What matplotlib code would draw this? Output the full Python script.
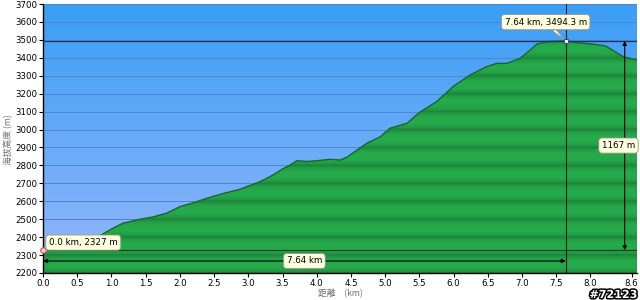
import numpy as np
import matplotlib
matplotlib.use("Agg")
import matplotlib.pyplot as plt
from matplotlib.colors import LinearSegmentedColormap
import matplotlib.patheffects as pe

plt.rcParams['font.family'] = ['DejaVu Sans', 'Noto Sans CJK TC']

# elevation profile
dist = [0.0, 0.05, 0.2, 0.44, 0.6, 0.8, 0.93, 1.05, 1.17, 1.42, 1.6, 1.81, 2.0, 2.2,
        2.39, 2.6, 2.88, 3.0, 3.17, 3.36, 3.5, 3.61, 3.71, 3.85, 4.0, 4.19, 4.34,
        4.44, 4.59, 4.73, 4.93, 5.07, 5.32, 5.5, 5.75, 5.99, 6.24, 6.48, 6.63,
        6.78, 6.97, 7.12, 7.22, 7.37, 7.5, 7.64, 7.82, 8.02, 8.22, 8.36, 8.48,
        8.63, 8.68]
elev = [2327, 2335, 2345, 2362, 2375, 2400, 2430, 2455, 2478, 2500, 2512, 2534, 2570, 2592,
        2616, 2640, 2667, 2685, 2709, 2746, 2780, 2802, 2826, 2822, 2826, 2834, 2830,
        2845, 2886, 2923, 2960, 3007, 3035, 3095, 3155, 3239, 3304, 3350, 3369,
        3369, 3397, 3443, 3477, 3490, 3492, 3494.3, 3484, 3477, 3466, 3434, 3406,
        3392, 3390]

start_km, start_m = 0.0, 2327
peak_km, peak_m = 7.64, 3494.3
gain_m = 1167

x_ticks = [0.0, 0.5, 1.0, 1.5, 2.0, 2.5, 3.0, 3.5, 4.0, 4.5, 5.0, 5.5, 6.0, 6.5, 7.0, 7.5, 8.0, 8.6]
y_ticks = list(range(2200, 3701, 100))

x_max = 8.68
y_min, y_max = 2200, 3700
box_fc = '#ffffe1'
box_ec = '#9a9a80'

fig = plt.figure(figsize=(6.4, 3.0), dpi=100)
ax = fig.add_axes([43 / 640, 27 / 300, 594 / 640, 269 / 300])
ax.set_xlim(0, x_max)
ax.set_ylim(y_min, y_max)

# sky gradient
sky = LinearSegmentedColormap.from_list('sky', ['#95b7fa', '#3a9ef5'])
ax.imshow(np.linspace(0, 1, 256).reshape(-1, 1), cmap=sky, origin='lower',
          extent=[0, x_max, y_min, y_max], aspect='auto', zorder=0)
ax.hlines(y_ticks, 0, x_max, colors='#4d86cc', lw=0.7, zorder=1)

# banded green ground, clipped to the profile
yy = np.linspace(y_min, y_max, 1500)
frac = (yy - y_min) % 100 / 100.0
band = np.sin(np.pi * frac) ** 0.45
ground = LinearSegmentedColormap.from_list('ground', ['#1a7a35', '#26ab4c'])
poly = ax.fill_between(dist, elev, y_min, color='none', zorder=2)
im = ax.imshow(band.reshape(-1, 1), cmap=ground, origin='lower',
               extent=[0, x_max, y_min, y_max], aspect='auto', zorder=2)
im.set_clip_path(poly.get_paths()[0], transform=ax.transData)
ax.plot(dist, elev, color='#1a6530', lw=1.0, zorder=3)

# reference lines
ax.axhline(peak_m, color='#1b3560', lw=0.9, zorder=4)
ax.axhline(start_m, color='#113d1c', lw=0.8, zorder=4)
ax.axvline(peak_km, color='#0c2412', lw=0.8, zorder=4)

# distance arrow
arrow_y = 2267
ax.annotate('', xy=(start_km, arrow_y), xytext=(peak_km, arrow_y),
            arrowprops=dict(arrowstyle='<|-|>', color='black', lw=0.8,
                            mutation_scale=6, shrinkA=0, shrinkB=0), zorder=5)
ax.text(peak_km / 2, arrow_y, f'{peak_km} km', fontsize=6.3, ha='center', va='center',
        zorder=6, bbox=dict(boxstyle='round,pad=0.35', fc=box_fc, ec=box_ec, lw=0.6))

# elevation gain arrow
arrow_x = 8.5
ax.annotate('', xy=(arrow_x, start_m), xytext=(arrow_x, peak_m),
            arrowprops=dict(arrowstyle='<|-|>', color='black', lw=0.8,
                            mutation_scale=6, shrinkA=0, shrinkB=0), zorder=5)
ax.text(8.41, (start_m + peak_m) / 2, f'{gain_m} m', fontsize=6.3, ha='center', va='center',
        zorder=6, bbox=dict(boxstyle='round,pad=0.35', fc=box_fc, ec=box_ec, lw=0.6))

# point markers and callouts
ax.plot([start_km], [start_m], marker='o', ms=4, mfc='#ffd0d0', mec='#d04848', mew=0.8,
        clip_on=False, zorder=7)
ax.plot([peak_km], [peak_m], marker='s', ms=3.5, mfc='white', mec='#3050b0', mew=0.8,
        zorder=7)
ax.annotate(f'{start_km:.1f} km, {start_m} m', xy=(start_km, start_m),
            xytext=(29, 5.5), textcoords='offset points', fontsize=6.3,
            ha='center', va='center', zorder=8,
            bbox=dict(boxstyle='round,pad=0.35', fc=box_fc, ec=box_ec, lw=0.6),
            arrowprops=dict(arrowstyle='wedge,tail_width=0.4', fc=box_fc, ec=box_ec,
                            lw=0.6, shrinkA=0, shrinkB=2))
ax.annotate(f'{peak_km} km, {peak_m} m', xy=(peak_km, peak_m),
            xytext=(-14.5, 13.5), textcoords='offset points', fontsize=6.3,
            ha='center', va='center', zorder=8,
            bbox=dict(boxstyle='round,pad=0.35', fc=box_fc, ec=box_ec, lw=0.6),
            arrowprops=dict(arrowstyle='wedge,tail_width=0.4', fc=box_fc, ec=box_ec,
                            lw=0.6, shrinkA=0, shrinkB=2))

# axes styling
for side in ['top', 'right']:
    ax.spines[side].set_visible(False)
for side in ['left', 'bottom']:
    ax.spines[side].set_linewidth(1.0)
    ax.spines[side].set_color('black')
ax.set_xticks(x_ticks)
ax.set_xticklabels([f'{t:.1f}' for t in x_ticks])
ax.set_yticks(y_ticks)
ax.tick_params(direction='out', length=3, width=0.8, labelsize=6.2, pad=1.2)

cjk = ['Noto Sans CJK TC', 'DejaVu Sans']
ax.set_xlabel('距離\u3000(km)', fontsize=6.3, color='#707070', family=cjk, labelpad=1)
fig.text(8 / 640, 1 - 140 / 300, '海拔高度 (m)', rotation=90, fontsize=6.3,
         color='#707070', family=cjk, ha='center', va='center')

fig.text(0.996, 0.0, '#72123', ha='right', va='bottom', fontsize=8,
         fontweight='bold', color='white',
         path_effects=[pe.withStroke(linewidth=2.2, foreground='black')])

fig.savefig('out.png', dpi=100)
